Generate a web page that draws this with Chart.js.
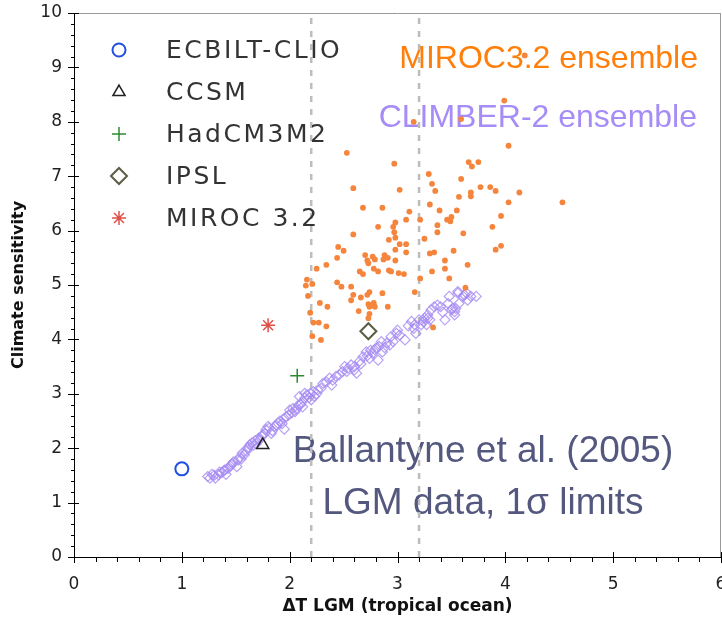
<!DOCTYPE html>
<html>
<head>
<meta charset="utf-8">
<script src="https://cdn.jsdelivr.net/npm/chart.js@4.4.1/dist/chart.umd.min.js"></script>
<style>
  html, body { margin: 0; padding: 0; background: #fff; }
</style>
</head>
<body>
<canvas id="chart" width="722" height="626"></canvas>
<script>
"use strict";

// ── Data ─────────────────────────────────────────────────────────────────────
const MODEL_NAMES = ["ECBILT-CLIO", "CCSM", "HadCM3M2", "IPSL", "MIROC 3.2"];
const MODEL_X     = [1.00, 1.75, 2.07, 2.73, 1.80];
const MODEL_Y     = [1.62, 2.06, 3.33, 4.15, 4.26];

const LIMIT_X = [2.2, 3.2];   // 1σ limits of LGM tropical ocean cooling

const MIROC_X = [
  4.03, 2.53, 2.97, 3.66, 3.75, 3.69, 3.29, 3.59, 3.32, 2.59, 3.02, 3.35, 3.77, 3.86, 3.91,
  3.68, 3.68, 3.57, 4.13, 4.03, 4.53, 3.30, 2.68, 2.86, 3.11, 3.39, 3.55, 3.96, 3.50, 3.46,
  3.49, 3.08, 3.21, 2.98, 2.82, 2.96, 3.37, 3.88, 2.97, 3.37, 2.59, 3.61, 2.98, 2.92, 3.25,
  3.02, 3.08, 3.96, 2.45, 2.98, 3.91, 2.50, 3.08, 3.34, 3.30, 3.52, 2.70, 2.77, 2.88, 2.44,
  2.72, 2.79, 2.87, 2.91, 2.98, 3.44, 2.73, 2.34, 2.25, 2.78, 3.44, 3.65, 2.65, 2.82, 2.92,
  2.94, 3.01, 3.06, 3.32, 2.68, 2.16, 3.21, 3.48, 2.44, 2.15, 2.21, 2.48, 2.57, 3.63, 3.16,
  2.17, 2.59, 2.72, 2.74, 2.86, 2.66, 2.57, 2.28, 2.73, 2.78, 2.35, 2.74, 2.79, 2.91, 2.64,
  2.19, 2.74, 2.73, 2.22, 2.27, 2.34, 3.33, 2.21, 2.29, 3.15, 3.99, 3.59, 4.18,
];
const MIROC_Y = [
  7.56, 7.43, 7.23, 7.26, 7.26, 7.18, 7.04, 6.95, 6.86, 6.78, 6.75, 6.73, 6.80, 6.80, 6.73,
  6.70, 6.63, 6.62, 6.70, 6.52, 6.52, 6.48, 6.42, 6.42, 6.35, 6.37, 6.37, 6.27, 6.25, 6.20,
  6.17, 6.20, 6.20, 6.15, 6.07, 6.07, 6.10, 6.07, 5.97, 5.97, 5.93, 5.95, 5.87, 5.83, 5.85,
  5.75, 5.75, 5.72, 5.70, 5.65, 5.65, 5.63, 5.60, 5.60, 5.58, 5.63, 5.55, 5.52, 5.55, 5.50,
  5.45, 5.47, 5.47, 5.50, 5.45, 5.45, 5.40, 5.37, 5.30, 5.30, 5.30, 5.37, 5.25, 5.25, 5.27,
  5.25, 5.22, 5.20, 5.25, 5.20, 5.10, 5.12, 5.12, 5.05, 4.99, 5.02, 4.97, 4.97, 4.95, 4.87,
  4.80, 4.82, 4.82, 4.87, 4.85, 4.77, 4.72, 4.67, 4.65, 4.67, 4.60, 4.60, 4.60, 4.60, 4.52,
  4.49, 4.47, 4.39, 4.31, 4.31, 4.24, 4.22, 4.06, 3.99, 8.00, 8.39, 8.05, 9.22,
];

const CLIMBER_X = [
  1.24, 1.28, 1.31, 1.34, 1.37, 1.39, 1.41, 1.43, 1.45, 1.47, 1.48, 1.51, 1.52, 1.54, 1.56,
  1.58, 1.60, 1.61, 1.63, 1.65, 1.68, 1.69, 1.71, 1.74, 1.77, 1.78, 1.81, 1.83, 1.86, 1.89,
  1.91, 1.93, 1.95, 1.95, 1.99, 2.02, 2.03, 2.05, 2.08, 2.11, 2.12, 2.14, 2.16, 2.19, 2.20,
  2.22, 2.23, 2.26, 2.29, 1.26, 1.40, 1.80, 2.09, 2.14, 2.31, 2.34, 2.37, 2.39, 2.40, 2.43,
  2.46, 2.49, 2.51, 2.54, 2.57, 2.60, 2.53, 2.62, 2.60, 2.65, 2.66, 2.68, 2.71, 2.74, 2.77,
  2.79, 2.80, 2.83, 2.82, 2.85, 2.86, 2.93, 2.94, 2.96, 2.99, 3.00, 3.02, 3.07, 3.13, 3.16,
  3.17, 3.20, 3.22, 3.25, 3.28, 3.30, 3.31, 3.34, 3.37, 3.44, 3.47, 3.48, 3.50, 3.53, 3.54,
  3.56, 3.57, 3.61, 3.62, 3.65, 3.68, 3.73, 3.56, 3.64, 3.51, 3.53, 3.27, 3.28, 1.30, 1.35,
  1.46, 1.55, 1.62, 1.66, 1.72, 1.75, 1.84, 1.88, 1.97, 2.00, 2.06, 2.10, 2.18, 2.25, 2.72,
  2.75, 2.88, 2.90, 3.10, 3.15, 3.24, 3.40, 3.42,
];
const CLIMBER_Y = [
  1.48, 1.52, 1.45, 1.51, 1.55, 1.59, 1.52, 1.63, 1.67, 1.72, 1.75, 1.66, 1.78, 1.84, 1.91,
  1.88, 1.95, 2.00, 2.06, 2.10, 2.14, 2.08, 2.18, 2.22, 2.27, 2.34, 2.37, 2.27, 2.40, 2.46,
  2.50, 2.45, 2.35, 2.55, 2.61, 2.65, 2.73, 2.67, 2.79, 2.84, 2.76, 2.92, 2.98, 3.01, 2.89,
  3.04, 2.95, 3.07, 3.10, 1.45, 1.60, 2.40, 2.95, 3.01, 3.19, 3.22, 3.29, 3.16, 3.25, 3.32,
  3.35, 3.41, 3.50, 3.47, 3.53, 3.44, 3.41, 3.38, 3.50, 3.60, 3.55, 3.68, 3.77, 3.65, 3.74,
  3.81, 3.84, 3.87, 3.62, 3.96, 3.77, 3.90, 4.05, 3.96, 4.11, 4.17, 4.08, 3.99, 4.33, 4.27,
  4.11, 4.36, 4.27, 4.39, 4.45, 4.36, 4.54, 4.60, 4.63, 4.36, 4.66, 4.79, 4.54, 4.51, 4.57,
  4.85, 4.66, 4.79, 4.82, 4.72, 4.79, 4.79, 4.88, 4.85, 4.57, 4.45, 4.27, 4.39, 1.50, 1.56,
  1.70, 1.80, 2.02, 2.05, 2.15, 2.25, 2.32, 2.42, 2.58, 2.70, 2.72, 2.80, 2.93, 3.00, 3.70,
  3.80, 3.85, 3.93, 4.25, 4.20, 4.33, 4.60, 4.50,
];

const X_TICKS = [0, 1, 2, 3, 4, 5, 6];
const Y_TICKS = [0, 1, 2, 3, 4, 5, 6, 7, 8, 9, 10];

// ── Styles ───────────────────────────────────────────────────────────────────
const MODEL_STYLES = [
  { pointStyle: "circle",   radius: 6.5, color: "#2050e0", width: 2   },
  { pointStyle: "triangle", radius: 7,   color: "#222222", width: 1.5 },
  { pointStyle: "cross",    radius: 7,   color: "#2f8a2f", width: 1.5 },
  { pointStyle: "rectRot",  radius: 8,   color: "#5c5c44", width: 2   },
  { pointStyle: "star",     radius: 7,   color: "#e0504a", width: 1.5 },
];
const ORANGE = "#f5843c";
const PURPLE = "rgba(165, 138, 242, 0.8)";
const SANS   = "'DejaVu Sans', Verdana, sans-serif";
const ARIAL  = "'Liberation Sans', Arial, sans-serif";

const zip = (xs, ys) => xs.map((x, i) => ({ x, y: ys[i] }));

// ── Datasets ─────────────────────────────────────────────────────────────────
const modelDatasets = MODEL_NAMES.map((name, i) => ({
  label: name,
  data: [{ x: MODEL_X[i], y: MODEL_Y[i] }],
  pointStyle: MODEL_STYLES[i].pointStyle,
  pointRadius: MODEL_STYLES[i].radius,
  pointBorderWidth: MODEL_STYLES[i].width,
  pointBorderColor: MODEL_STYLES[i].color,
  pointBackgroundColor: "rgba(0,0,0,0)",
  order: 0,
}));

const limitDatasets = LIMIT_X.map(x => ({
  label: "limit " + x,
  data: [{ x, y: 0 }, { x, y: 10 }],
  showLine: true,
  borderColor: "#bdbdbd",
  borderWidth: 2.5,
  borderDash: [6, 7],
  pointRadius: 0,
  order: 5,
}));

const datasets = [
  ...modelDatasets,
  {
    label: "MIROC3.2 ensemble",
    data: zip(MIROC_X, MIROC_Y),
    pointStyle: "circle",
    pointRadius: 2.9,
    pointBorderWidth: 0,
    pointBackgroundColor: ORANGE,
    order: 2,
  },
  {
    label: "CLIMBER-2 ensemble",
    data: zip(CLIMBER_X, CLIMBER_Y),
    pointStyle: "rectRot",
    pointRadius: 5,
    pointBorderWidth: 1.2,
    pointBorderColor: PURPLE,
    pointBackgroundColor: "rgba(0,0,0,0)",
    order: 3,
  },
  ...limitDatasets,
];

// ── Plugins ──────────────────────────────────────────────────────────────────
// texts that sit under the points
const notesPlugin = {
  id: "notes",
  beforeDatasetsDraw(chart) {
    const ctx = chart.ctx;
    ctx.save();
    ctx.textBaseline = "alphabetic";
    ctx.font = `32px ${ARIAL}`;
    ctx.textAlign = "right";
    ctx.fillStyle = "#ff7f0a";
    ctx.fillText("MIROC3.2 ensemble", 698, 68);
    ctx.fillStyle = "#a68cf6";
    ctx.fillText("CLIMBER-2 ensemble", 697, 127);
    ctx.font = `37px ${ARIAL}`;
    ctx.textAlign = "center";
    ctx.fillStyle = "#54587f";
    ctx.fillText("Ballantyne et al. (2005)", 483, 462);
    ctx.fillText("LGM data, 1\u03c3 limits", 483, 514);
    ctx.restore();
  },
};

// frame, major + minor ticks, model legend
const framePlugin = {
  id: "frame",
  afterDraw(chart) {
    const ctx = chart.ctx;
    const { left, right, top, bottom } = chart.chartArea;
    const xs = chart.scales.x, ys = chart.scales.y;
    ctx.save();

    ctx.strokeStyle = "#9a9a9a";
    ctx.lineWidth = 1;
    ctx.beginPath();
    ctx.moveTo(left, top + 0.5); ctx.lineTo(right, top + 0.5);
    ctx.moveTo(right - 0.5, top); ctx.lineTo(right - 0.5, bottom);
    ctx.stroke();

    ctx.strokeStyle = "#000";
    ctx.beginPath();
    for (let i = 0; i <= 30; i++) {
      const v = i / 5;
      const px = Math.round(xs.getPixelForValue(v)) + 0.5;
      const major = i % 5 === 0;
      ctx.moveTo(px, bottom - (major ? 5 : 0));
      ctx.lineTo(px, bottom + (major ? 6 : 5));
    }
    for (let i = 0; i <= 50; i++) {
      const v = i / 5;
      const py = Math.round(ys.getPixelForValue(v)) + 0.5;
      const major = i % 5 === 0;
      ctx.moveTo(left - (major ? 6 : 3), py);
      ctx.lineTo(left + (major ? 5 : 1), py);
    }
    ctx.stroke();

    // legend of single models
    const lx = 119, tx = 166, y0 = 50, gap = 42;
    ctx.font = `25px ${SANS}`;
    ctx.letterSpacing = "2.5px";
    ctx.textAlign = "left";
    ctx.textBaseline = "middle";
    MODEL_NAMES.forEach((name, i) => {
      const st = MODEL_STYLES[i];
      const y = y0 + i * gap;
      ctx.strokeStyle = st.color;
      ctx.fillStyle = "rgba(0,0,0,0)";
      ctx.lineWidth = st.width;
      Chart.helpers.drawPoint(ctx, {
        pointStyle: st.pointStyle, radius: st.radius, borderWidth: st.width, rotation: 0,
      }, lx, y);
      ctx.fillStyle = "#333";
      ctx.fillText(name, tx, y + 1);
    });
    ctx.restore();
  },
};

// ── Chart ────────────────────────────────────────────────────────────────────
new Chart(document.getElementById("chart"), {
  type: "scatter",
  data: { datasets },
  options: {
    responsive: false,
    animation: false,
    layout: { autoPadding: false, padding: { left: 0, top: 13, right: 1, bottom: 0 } },
    plugins: { legend: { display: false }, tooltip: { enabled: false } },
    scales: {
      x: {
        min: 0, max: 6,
        afterBuildTicks: s => { s.ticks = X_TICKS.map(value => ({ value })); },
        afterFit: s => { s.height = 69; s.paddingLeft = 0; s.paddingRight = 0; },
        grid: { display: false, drawTicks: false },
        border: { display: true, color: "#000", width: 1 },
        ticks: { padding: 17, color: "#222", font: { family: SANS, size: 17 }, maxRotation: 0 },
        title: {
          display: true, text: "\u0394T LGM (tropical ocean)", color: "#111",
          font: { family: SANS, size: 17, weight: "bold" }, padding: { top: 0, bottom: 9 },
        },
      },
      y: {
        min: 0, max: 10,
        afterBuildTicks: s => { s.ticks = Y_TICKS.map(value => ({ value })); },
        afterFit: s => { s.width = 74; s.paddingTop = 0; s.paddingBottom = 0; },
        grid: { display: false, drawTicks: false },
        border: { display: true, color: "#000", width: 1 },
        ticks: { padding: 12, color: "#222", font: { family: SANS, size: 17 } },
        title: {
          display: true, text: "Climate sensitivity", color: "#111",
          font: { family: SANS, size: 16, weight: "bold" }, padding: { top: 9, bottom: 0 },
        },
      },
    },
  },
  plugins: [notesPlugin, framePlugin],
});
</script>
</body>
</html>
